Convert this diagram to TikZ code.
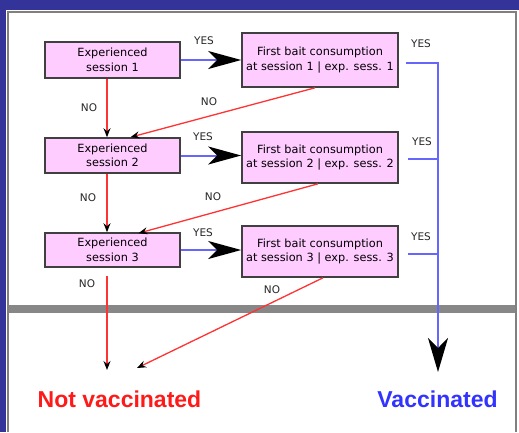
\documentclass[tikz,border=0pt]{standalone}
\usepackage{fontspec}
\setmainfont{DejaVu Sans}
\newfontfamily\libsans{Liberation Sans}
\usetikzlibrary{arrows.meta}
\definecolor{frameblue}{HTML}{333399}
\definecolor{boxpink}{HTML}{FFCCFF}
\definecolor{lineblue}{HTML}{6666FF}
\definecolor{linered}{HTML}{FF3333}
\definecolor{vacblue}{HTML}{3333FF}
\definecolor{notred}{HTML}{FF1A1A}
\definecolor{bargray}{HTML}{878787}
\begin{document}
\begin{tikzpicture}[x=1pt,y=-1pt,
  box/.style={draw=black!75, line width=1.6pt, fill=boxpink, align=center, inner sep=0pt,
    font=\fontsize{11.3}{14.5}\selectfont},
  expbox/.style={box, minimum width=135pt, minimum height=36pt},
  baitbox/.style={box, minimum width=156pt, minimum height=52pt},
  lbl/.style={font=\fontsize{10.5}{12}\selectfont, inner sep=0pt, text=black!85},
  yesarrow/.style={draw=lineblue, line width=2pt, -{Stealth[length=33pt,width=18pt,inset=9pt,color=black]}},
  noarrow/.style={draw=linered, line width=1.3pt, -{Stealth[length=9pt,width=7pt,inset=3pt,color=black]}},
  vline/.style={draw=lineblue, line width=2pt, line join=miter},
  result/.style={font=\libsans\bfseries\fontsize{23}{27}\selectfont, inner sep=0pt},
]
\useasboundingbox (0,0) rectangle (519,432);
\fill[white] (0,0) rectangle (519,432);
\fill[frameblue] (0,0) rectangle (519,10);
\fill[frameblue] (0,0) rectangle (6,432);
\draw[gray, line width=2pt] (8,432) -- (8,12) -- (516,12) -- (516,432);
\fill[bargray] (9,305) rectangle (515,313);

\coordinate (vx) at (107,0);
\coordinate (rx) at (438,0);
\coordinate (vend) at (438,372);
\coordinate (nvend1) at (107,370);
\coordinate (nvend2) at (137,368);

\node[expbox] (e1) at (112.5,60) {Experienced\\session 1};
\node[baitbox, minimum height=54pt] (b1) at (320,60) {First bait consumption\\at session 1 | exp. sess. 1};
\node[expbox, minimum height=35pt] (e2) at (112.5,155.5) {Experienced\\session 2};
\node[baitbox, minimum height=51pt] (b2) at (320,157.5) {First bait consumption\\at session 2 | exp. sess. 2};
\node[expbox, minimum height=34pt] (e3) at (112.5,250) {Experienced\\session 3};
\node[baitbox, minimum height=51pt] (b3) at (320,251.5) {First bait consumption\\at session 3 | exp. sess. 3};

% YES arrows
\draw[yesarrow] (e1.east) -- (e1.east -| b1.west);
\draw[yesarrow] (e2.east) -- (e2.east -| b2.west);
\draw[yesarrow] (e3.east) -- (e3.east -| b3.west);

% right blue lines
\draw[vline, -{Stealth[length=34pt,width=20pt,inset=10pt,color=black]}]
  ([xshift=7pt,yshift=-3pt]b1.east) -- ([yshift=-3pt]b1.east -| rx) -- (vend);
\draw[vline] ([xshift=9pt,yshift=-1.5pt]b2.east) -- ([yshift=-1.5pt]b2.east -| rx);
\draw[vline] ([xshift=9pt,yshift=-2.5pt]b3.east) -- ([yshift=-2.5pt]b3.east -| rx);

% NO arrows
\draw[noarrow] (e1.south -| vx) -- (e2.north -| vx);
\draw[noarrow] (e2.south -| vx) -- (e3.north -| vx);
\draw[noarrow, shorten <=8pt] (e3.south -| vx) -- (nvend1);
\draw[noarrow] ([xshift=-5pt]b1.south) -- ([xshift=18pt]e2.north);
\draw[noarrow] ([xshift=-2pt]b2.south) -- ([xshift=26pt,yshift=-1pt]e3.north);
\draw[noarrow] ([xshift=3pt]b3.south) -- (nvend2);

% labels
\node[lbl] (y1) at (204,41) {YES};
\node[lbl] (y2) at (203,137) {YES};
\node[lbl] (y3) at (203,233) {YES};
\node[lbl] (ry1) at (421,44) {YES};
\node[lbl] (ry2) at (422,142) {YES};
\node[lbl] (ry3) at (421,237) {YES};
\node[lbl] (n1) at (89,108) {NO};
\node[lbl] (n2) at (88,198) {NO};
\node[lbl] (n3) at (87,284) {NO};
\node[lbl] (d1) at (209,102) {NO};
\node[lbl] (d2) at (213,197) {NO};
\node[lbl] (d3) at (272,290) {NO};

\node[result, text=notred] (nv) at (119.5,399) {Not vaccinated};
\node[result, text=vacblue] (v) at (437.5,399) {Vaccinated};
\end{tikzpicture}
\end{document}
